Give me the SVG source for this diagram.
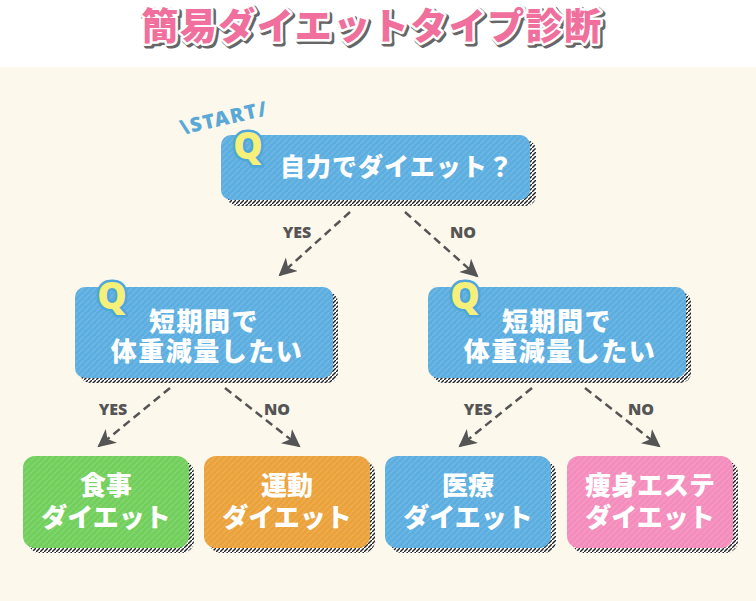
<svg xmlns="http://www.w3.org/2000/svg" width="756" height="601" viewBox="0 0 756 601">
<style>
.t{font-family:"Noto Sans CJK JP","Noto Sans",sans-serif;font-weight:900;fill:#fff;text-anchor:middle}
.q{font-family:"Noto Sans","Liberation Sans",sans-serif;font-weight:900;font-size:37px;fill:#f6f07a;stroke:#4fa6d9;stroke-width:5;paint-order:stroke;stroke-linejoin:round;text-anchor:middle}
.lb{font-family:"Noto Sans","Liberation Sans",sans-serif;font-weight:900;font-size:16px;fill:#555;text-anchor:middle}
.ar{fill:none;stroke:#555;stroke-width:2.5;stroke-dasharray:8 5;marker-end:url(#ah)}
.sh{fill:url(#hatch)}
.tx{fill:url(#stripe)}
</style>
<defs>
<pattern id="hatch" width="4" height="4" patternUnits="userSpaceOnUse">
<rect width="4" height="4" fill="#fff"/>
<path d="M-1,5 L5,-1" stroke="#222" stroke-width="1.4"/>
</pattern>
<pattern id="stripe" width="6" height="6" patternUnits="userSpaceOnUse">
<path d="M-1,7 L7,-1" stroke="#fff" stroke-opacity="0.12" stroke-width="1.5"/>
</pattern>
<marker id="ah" markerWidth="20" markerHeight="20" refX="16" refY="9" orient="auto" markerUnits="userSpaceOnUse">
<path d="M0,0 L18,9 L0,18 L5,9 z" fill="#555"/>
</marker>
</defs>
<rect width="756" height="601" fill="#fff"/>
<rect x="0" y="67" width="756" height="534" fill="#fdf8ec"/>

<g id="title">
<text x="374" y="42" font-family="'Noto Sans CJK JP',sans-serif" font-weight="900" font-size="37" letter-spacing="1.5" text-anchor="middle" fill="#666" stroke="#666" stroke-width="6" stroke-linejoin="round">簡易ダイエットタイプ診断</text>
<text x="372" y="40" font-family="'Noto Sans CJK JP',sans-serif" font-weight="900" font-size="37" letter-spacing="1.5" text-anchor="middle" fill="#f06f9c" stroke="#fff" stroke-width="5" stroke-linejoin="round" paint-order="stroke">簡易ダイエットタイプ診断</text>
</g>

<g id="connectors">
<path class="ar" d="M350,212 L280,275"/>
<path class="ar" d="M405,212 L477,276"/>
<path class="ar" d="M170,388 L99,446"/>
<path class="ar" d="M225,388 L299,446"/>
<path class="ar" d="M532,388 L460,446"/>
<path class="ar" d="M585,388 L659,446"/>
<text class="lb" x="297" y="238">YES</text>
<text class="lb" x="463" y="238">NO</text>
<text class="lb" x="113" y="415">YES</text>
<text class="lb" x="277" y="415">NO</text>
<text class="lb" x="478" y="415">YES</text>
<text class="lb" x="641" y="415">NO</text>
</g>

<g id="q1">
<text x="224" y="125" transform="rotate(-13 224 118)" font-family="'Noto Sans','Liberation Sans',sans-serif" font-weight="900" font-size="20" letter-spacing="1.5" fill="#5aa8d6" text-anchor="middle">\START/</text>
<rect class="sh" x="227" y="140" width="309" height="66" rx="10"/>
<rect x="221" y="135" width="309" height="65" rx="10" fill="#5caee0"/>
<rect class="tx" x="221" y="135" width="309" height="65" rx="10"/>
<text class="q" x="248" y="159">Q</text>
<text class="t" x="397" y="176" font-size="25" letter-spacing="1">自力でダイエット？</text>
</g>

<g id="q2">
<rect class="sh" x="80" y="292" width="258" height="91" rx="10"/>
<rect x="75" y="287" width="258" height="91" rx="10" fill="#5caee0"/>
<rect class="tx" x="75" y="287" width="258" height="91" rx="10"/>
<text class="q" x="112" y="309">Q</text>
<text class="t" x="204" y="331" font-size="26" letter-spacing="1.5">短期間で</text>
<text class="t" x="207" y="361" font-size="26" letter-spacing="1.5">体重減量したい</text>
</g>

<g id="q3">
<rect class="sh" x="433" y="292" width="258" height="91" rx="10"/>
<rect x="428" y="287" width="258" height="91" rx="10" fill="#5caee0"/>
<rect class="tx" x="428" y="287" width="258" height="91" rx="10"/>
<text class="q" x="465" y="309">Q</text>
<text class="t" x="557" y="331" font-size="26" letter-spacing="1.5">短期間で</text>
<text class="t" x="560" y="361" font-size="26" letter-spacing="1.5">体重減量したい</text>
</g>

<g id="r1">
<rect class="sh" x="28" y="461" width="166" height="92" rx="12"/>
<rect x="23" y="456" width="166" height="92" rx="12" fill="#72cf5c"/>
<rect class="tx" x="23" y="456" width="166" height="92" rx="12"/>
<text class="t" x="106" y="495" font-size="26">食事</text>
<text class="t" x="106" y="527" font-size="26">ダイエット</text>
</g>

<g id="r2">
<rect class="sh" x="209" y="461" width="166" height="92" rx="12"/>
<rect x="204" y="456" width="166" height="92" rx="12" fill="#eba23b"/>
<rect class="tx" x="204" y="456" width="166" height="92" rx="12"/>
<text class="t" x="287" y="495" font-size="26">運動</text>
<text class="t" x="287" y="527" font-size="26">ダイエット</text>
</g>

<g id="r3">
<rect class="sh" x="390" y="461" width="166" height="92" rx="12"/>
<rect x="385" y="456" width="166" height="92" rx="12" fill="#5caee0"/>
<rect class="tx" x="385" y="456" width="166" height="92" rx="12"/>
<text class="t" x="468" y="495" font-size="26">医療</text>
<text class="t" x="468" y="527" font-size="26">ダイエット</text>
</g>

<g id="r4">
<rect class="sh" x="572" y="461" width="166" height="92" rx="12"/>
<rect x="567" y="456" width="166" height="92" rx="12" fill="#f48cbc"/>
<rect class="tx" x="567" y="456" width="166" height="92" rx="12"/>
<text class="t" x="650" y="495" font-size="26">痩身エステ</text>
<text class="t" x="650" y="527" font-size="26">ダイエット</text>
</g>
</svg>
